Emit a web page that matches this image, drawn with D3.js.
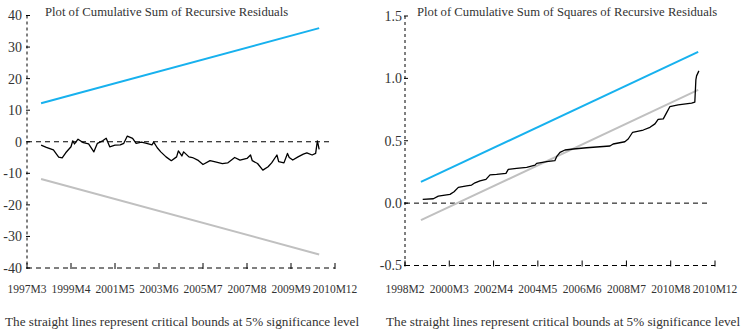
<!DOCTYPE html>
<html>
<head>
<meta charset="utf-8">
<script src="https://cdn.jsdelivr.net/npm/d3@7"></script>
<style>
  body { margin: 0; background: #fff; }
  svg text { font-family: "Liberation Serif", "DejaVu Serif", serif; fill: #333; }
</style>
</head>
<body>
<div id="chartContainer"></div>
<script>
// month index, 0 = first tick label month
const cusumMonths = [8, 11, 15, 18, 20, 22, 25, 26, 27, 29, 32, 35, 38, 40, 43, 45, 47, 50, 53, 55,
    57, 60, 62, 65, 68, 71, 72, 74, 76, 79, 82, 85, 86, 88, 89, 92, 94, 97, 100, 104,
    107, 111, 114, 118, 121, 125, 127, 128, 131, 134, 137, 139, 142, 143, 146, 148, 149, 151, 154, 157,
    159, 162, 164, 165, 166];
const cusumValues = [-1.1, -1.8, -2.6, -4.9, -5.1, -3.5, -1.6, 0.3, -0.7, 0.8, -0.3, -0.7, -3.2, -0.5, 0.3, 1.1, -1.6, -1.1, -1.0, -0.5,
    1.8, 1.1, -0.5, -0.1, -0.5, -1.0, -0.1, -1.9, -3.2, -4.8, -6.0, -4.8, -2.9, -4.5, -3.2, -4.8, -5.0, -5.8, -7.2, -6.0,
    -6.4, -6.9, -6.7, -5.0, -5.8, -5.3, -4.2, -6.0, -6.9, -9.0, -7.9, -6.7, -4.2, -6.3, -6.7, -3.7, -5.0, -5.8, -4.8, -3.9,
    -3.5, -4.2, -3.7, 0.3, -2.4];
const cusumBoundMonths = [8, 166];
const cusumUpper = [12.2, 36.0];
const cusumLower = [-11.8, -35.7];
const cusumTickLabels = ['1997M3', '1999M4', '2001M5', '2003M6', '2005M7', '2007M8', '2009M9', '2010M12'];
const cusumYTicks = [40, 30, 20, 10, 0, -10, -20, -30, -40];

const sqMonths = [10, 16, 18.8, 25.4, 27.7, 30.1, 34.8, 37.6, 39.5, 42.3, 45.7, 48, 51.7, 57, 58.3, 63, 68.7, 73.4, 74.3, 80,
    84.6, 85.6, 87.5, 90.3, 95, 102.5, 110, 115.7, 117.5, 124.1, 126, 128.5, 134.5, 138.3, 141.1, 142.9, 145.8, 147.7, 149.5, 154.2,
    161.8, 163.6, 164.2, 164.6, 165.9];
const sqValues = [0.030, 0.035, 0.056, 0.070, 0.091, 0.126, 0.139, 0.145, 0.163, 0.179, 0.190, 0.227, 0.231, 0.239, 0.271, 0.279, 0.287, 0.305, 0.319, 0.332,
    0.340, 0.372, 0.407, 0.426, 0.434, 0.444, 0.452, 0.458, 0.474, 0.492, 0.514, 0.568, 0.586, 0.608, 0.635, 0.672, 0.675, 0.725, 0.773, 0.787,
    0.801, 0.809, 0.988, 1.020, 1.060];
const sqBoundMonths = [9, 165.5];
const sqUpper = [0.17, 1.213];
const sqLower = [-0.137, 0.908];
const sqTickLabels = ['1998M2', '2000M3', '2002M4', '2004M5', '2006M6', '2008M7', '2010M8', '2010M12'];
const sqYTicks = ['1.5', '1.0', '0.5', '0.0', '-0.5'];

const footnote = 'The straight lines represent critical bounds at 5% significance level';

const width = 748;
const height = 335;

const svg = d3.select('#chartContainer')
    .append('svg')
    .attr('width', width)
    .attr('height', height);

function panel(cfg) {
    const scX = d3.scaleLinear()
        .domain([0, 175])
        .range([cfg.left, cfg.right]);

    const scY = d3.scaleLinear()
        .domain(cfg.yDomain)
        .range([cfg.bottom, cfg.top]);

    const g = svg.append('g');

    // title
    g.append('text')
        .attr('x', cfg.titleX)
        .attr('y', 16)
        .style('font-size', '12.7px')
        .text(cfg.title);

    // y axis, dashed
    g.append('line')
        .attr('x1', cfg.left).attr('x2', cfg.left)
        .attr('y1', cfg.top).attr('y2', cfg.bottom)
        .attr('stroke', '#000')
        .attr('stroke-dasharray', '3,3');

    // x axis, dashed
    g.append('line')
        .attr('x1', cfg.left).attr('x2', cfg.right)
        .attr('y1', cfg.bottom).attr('y2', cfg.bottom)
        .attr('stroke', '#000')
        .attr('stroke-dasharray', '5,4');

    // zero line
    g.append('line')
        .attr('x1', cfg.left).attr('x2', cfg.zeroEnd)
        .attr('y1', scY(0)).attr('y2', scY(0))
        .attr('stroke', '#000')
        .attr('stroke-dasharray', '5,4');

    // y ticks
    const yTicks = cfg.yTicks.map(Number);
    g.selectAll('.ytick')
        .data(yTicks)
        .enter()
        .append('line')
        .attr('x1', cfg.left - 1).attr('x2', cfg.left + 3)
        .attr('y1', d => scY(d)).attr('y2', d => scY(d))
        .attr('stroke', '#000');

    g.selectAll('.ylab')
        .data(cfg.yTicks)
        .enter()
        .append('text')
        .attr('x', cfg.left - cfg.labelGap)
        .attr('y', d => scY(+d))
        .attr('dy', '0.35em')
        .attr('text-anchor', 'end')
        .style('font-size', '14px')
        .text(d => d);

    // x ticks
    const xTickVals = cfg.xLabels.map((d, i) => i * 25);
    g.selectAll('.xtick')
        .data(xTickVals)
        .enter()
        .append('line')
        .attr('x1', d => scX(d)).attr('x2', d => scX(d))
        .attr('y1', cfg.bottom - 5).attr('y2', cfg.bottom + 1)
        .attr('stroke', '#000');

    g.selectAll('.xlab')
        .data(cfg.xLabels)
        .enter()
        .append('text')
        .attr('x', (d, i) => scX(i * 25))
        .attr('y', 293)
        .attr('text-anchor', 'middle')
        .style('font-size', '11.5px')
        .text(d => d);

    const lineMaker = d3.line()
        .x(d => scX(d[0]))
        .y(d => scY(d[1]));

    g.append('path')
        .attr('fill', 'none')
        .attr('stroke', '#c0c0c0')
        .attr('stroke-width', 2)
        .attr('d', lineMaker(cfg.boundX.map((m, i) => [m, cfg.lower[i]])));

    g.append('path')
        .attr('fill', 'none')
        .attr('stroke', '#17b1ee')
        .attr('stroke-width', 2)
        .attr('d', lineMaker(cfg.boundX.map((m, i) => [m, cfg.upper[i]])));

    g.append('path')
        .attr('fill', 'none')
        .attr('stroke', '#000')
        .attr('stroke-width', 1.3)
        .attr('stroke-linejoin', 'round')
        .attr('d', lineMaker(cfg.xs.map((m, i) => [m, cfg.ys[i]])));

    // footnote
    g.append('text')
        .attr('x', cfg.noteX)
        .attr('y', 326)
        .style('font-size', '13.2px')
        .text(footnote);
}

panel({
    left: 27, right: 335, top: 15.5, bottom: 268, zeroEnd: 330,
    yDomain: [-40, 40], yTicks: cusumYTicks, labelGap: 5,
    xLabels: cusumTickLabels,
    xs: cusumMonths, ys: cusumValues,
    boundX: cusumBoundMonths, upper: cusumUpper, lower: cusumLower,
    title: 'Plot of Cumulative Sum of Recursive Residuals', titleX: 45,
    noteX: 5
});

panel({
    left: 405, right: 715, top: 16, bottom: 265.5, zeroEnd: 710,
    yDomain: [-0.5, 1.5], yTicks: sqYTicks, labelGap: 3,
    xLabels: sqTickLabels,
    xs: sqMonths, ys: sqValues,
    boundX: sqBoundMonths, upper: sqUpper, lower: sqLower,
    title: 'Plot of Cumulative Sum of Squares of Recursive Residuals', titleX: 417,
    noteX: 386
});
</script>
</body>
</html>
